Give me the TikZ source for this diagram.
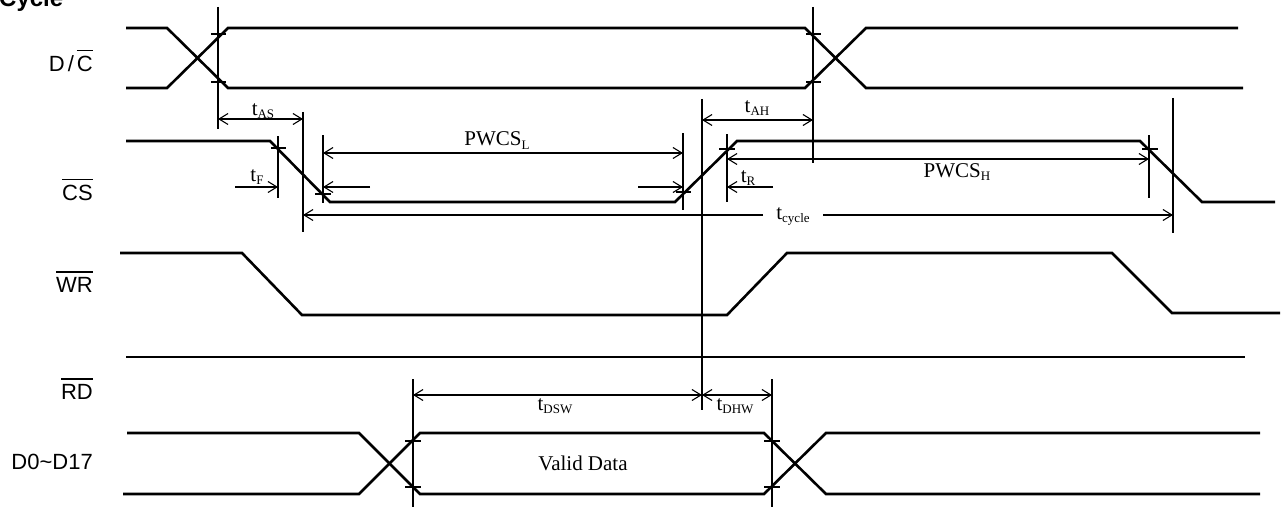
\documentclass[tikz,border=0pt]{standalone}
\usepackage{fontspec}
\setmainfont{Liberation Serif}
\newfontfamily\arialfont{Liberation Sans}
\usetikzlibrary{arrows.meta}
\newcommand\tsub[2]{#1\raisebox{-3pt}{\fontsize{13}{13}\selectfont #2}}
\newcommand\ovbar[1]{\leavevmode\vbox{\hrule height 1.2pt\kern 5pt\hbox{#1}}}
\begin{document}
\begin{tikzpicture}[x=1pt,y=-1pt,
  sig/.style={line width=2.6pt},
  vln/.style={line width=1.8pt},
  tickm/.style={line width=1.3pt},
  dim/.style={line width=1.1pt},
  both/.style={dim,{Straight Barb[length=9pt,width=11pt]}-{Straight Barb[length=9pt,width=11pt]}},
  toend/.style={dim,-{Straight Barb[length=9pt,width=11pt]}},
  lbl/.style={font=\arialfont\fontsize{22}{26}\selectfont, anchor=east, inner sep=0pt},
  tlbl/.style={font=\fontsize{21}{24}\selectfont, inner sep=0pt, anchor=base},
]
\useasboundingbox (0,0) rectangle (1281,508);

% title
\node[font=\arialfont\bfseries\fontsize{24}{28}\selectfont, anchor=base west, inner sep=0pt] (title) at (-1,7) {Cycle};

% signal labels
\node[lbl] (ldc) at (93,61) {D\kern3pt/\kern3pt\ovbar{C}};
\node[lbl] (lcs) at (93,190) {\ovbar{CS}};
\node[lbl] (lwr) at (93,282) {\ovbar{WR}};
\node[lbl] (lrd) at (93,389) {\ovbar{RD}};
\node[lbl] (ld) at (93,462) {D0\textasciitilde D17};

% D/C
\draw[sig] (126,28) -- (167,28) -- (228,88) -- (805,88) -- (866,28) -- (1238,28);
\draw[sig] (126,88) -- (167,88) -- (228,28) -- (805,28) -- (866,88) -- (1243,88);

% CS
\draw[sig] (126,141) -- (270,141) -- (330,202) -- (675,202) -- (737,141) -- (1140,141) -- (1202,202) -- (1275,202);

% WR
\draw[sig] (120,253) -- (242,253) -- (302,315) -- (727,315) -- (787,253) -- (1112,253) -- (1172,313) -- (1280,313);

% RD
\draw[sig] (126,357) -- (1245,357);

% D0~D17
\draw[sig] (127,433) -- (359,433) -- (420,494) -- (764,494) -- (826,433) -- (1260,433);
\draw[sig] (123,494) -- (359,494) -- (420,433) -- (764,433) -- (826,494) -- (1260,494);

% vertical reference lines
\draw[vln] (218,7) -- (218,129);
\draw[vln] (813,7) -- (813,163);
\draw[vln] (303,112) -- (303,232);
\draw[vln] (278,136) -- (278,198);
\draw[vln] (323,135) -- (323,203);
\draw[vln] (683,133) -- (683,210);
\draw[vln] (727,134) -- (727,202);
\draw[vln] (702,99) -- (702,410);
\draw[vln] (1149,135) -- (1149,198);
\draw[vln] (1173,98) -- (1173,233);
\draw[vln] (413,379) -- (413,507);
\draw[vln] (772,379) -- (772,507);

% ticks
\draw[tickm] (211,34) -- (226,34);
\draw[tickm] (211,82) -- (226,82);
\draw[tickm] (806,34) -- (821,34);
\draw[tickm] (806,82) -- (821,82);
\draw[tickm] (271,148) -- (286,148);
\draw[tickm] (315,194) -- (331,194);
\draw[tickm] (676,192) -- (691,192);
\draw[tickm] (719,149) -- (735,149);
\draw[tickm] (1142,149) -- (1158,149);
\draw[tickm] (405,441) -- (421,441);
\draw[tickm] (405,487) -- (421,487);
\draw[tickm] (764,441) -- (780,441);
\draw[tickm] (764,487) -- (780,487);

% dimension arrows
\draw[both] (218,119) -- (303,119);
\node[tlbl] (tas) at (263,115) {\tsub{t}{AS}};

\draw[both] (702,120) -- (813,120);
\node[tlbl] (tah) at (757,113) {\tsub{t}{AH}};

\draw[toend] (235,187) -- (278,187);
\node[tlbl] (tf) at (257,181) {\tsub{t}{F}};
\draw[toend] (370,187) -- (323,187);

\draw[toend] (638,187) -- (683,187);
\draw[toend] (773,187) -- (727,187);
\node[tlbl] (tr) at (748,182) {\tsub{t}{R}};

\draw[both] (323,153) -- (683,153);
\node[tlbl] (pwl) at (497,146) {\tsub{PWCS}{L}};

\draw[both] (727,159) -- (1149,159);
\node[tlbl] (pwh) at (957,177) {\tsub{PWCS}{H}};

\draw[toend] (763,215) -- (303,215);
\draw[toend] (823,215) -- (1173,215);
\node[tlbl] (tcy) at (793,219) {\tsub{t}{cycle}};

\draw[both] (413,395) -- (702,395);
\node[tlbl] (tdsw) at (555,410) {\tsub{t}{DSW}};
\draw[both] (702,395) -- (772,395);
\node[tlbl] (tdhw) at (735,410) {\tsub{t}{DHW}};

\node[font=\fontsize{21}{24}\selectfont, inner sep=0pt] (vd) at (583,463) {Valid Data};
\end{tikzpicture}
\end{document}
